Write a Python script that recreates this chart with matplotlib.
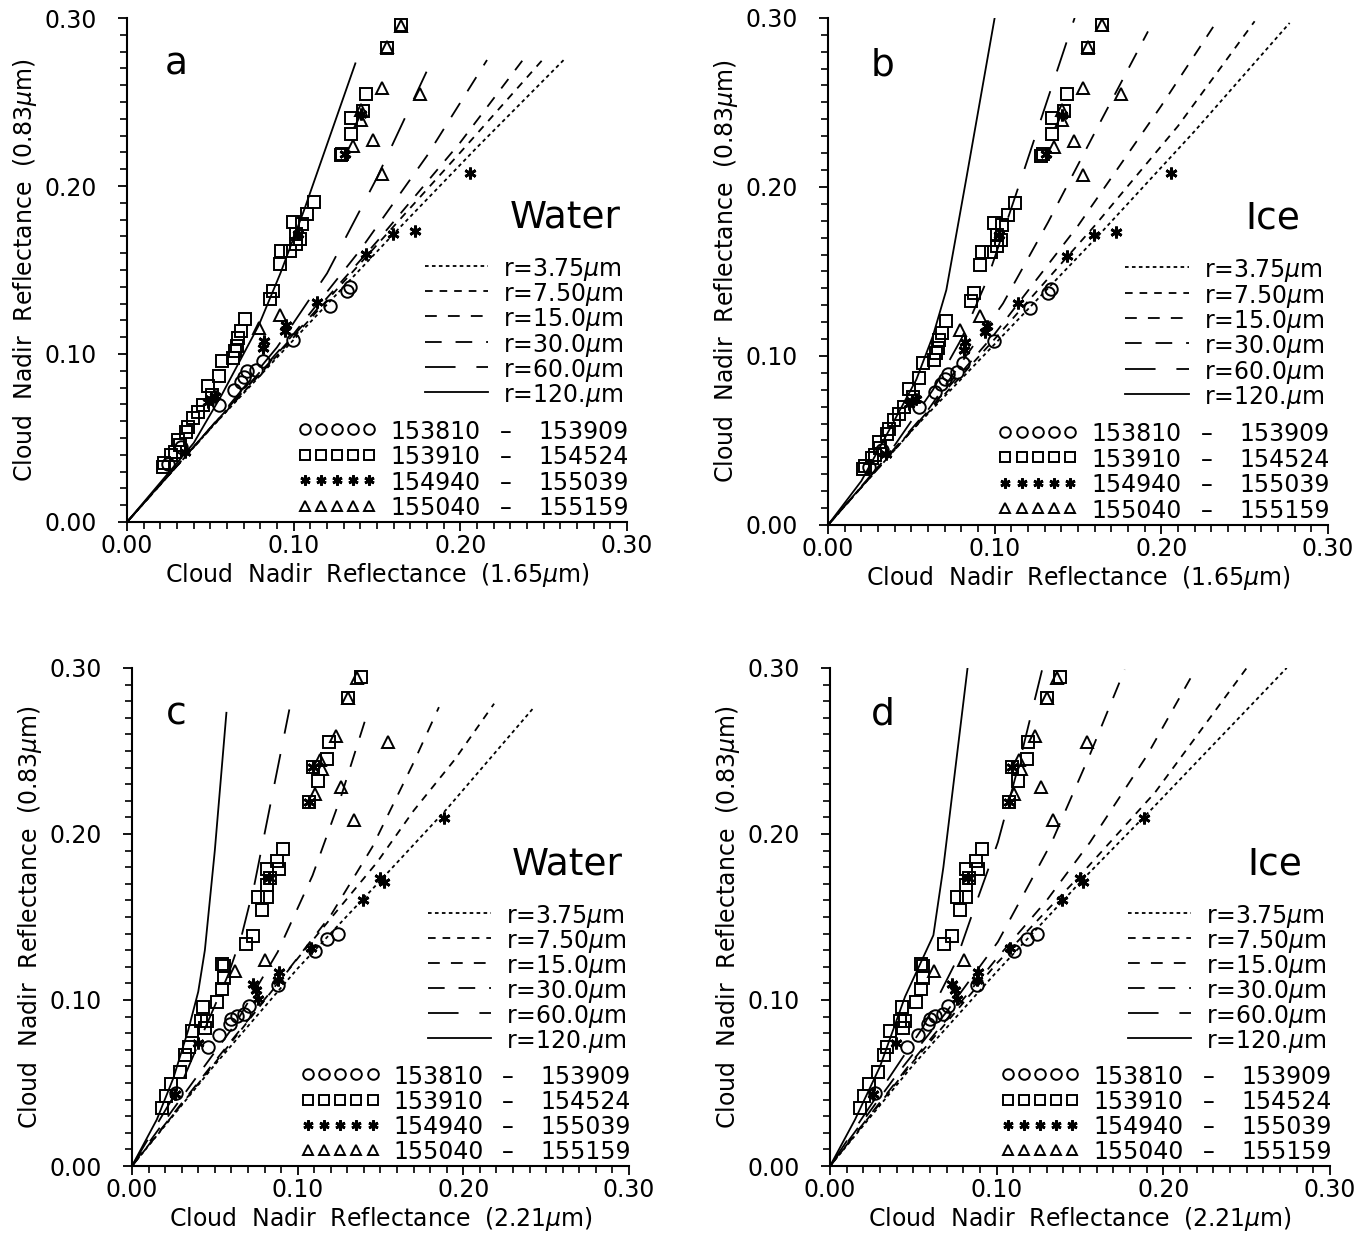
import matplotlib.pyplot as plt
from matplotlib.ticker import MultipleLocator
import numpy as np

plt.rcParams['font.family'] = ['DejaVu Sans']
plt.rcParams['lines.scale_dashes'] = False

############################################
## Data
############################################

radii = ["3.75", "7.50", "15.0", "30.0", "60.0", "120."]
periods = [("153810", "153909"), ("153910", "154524"), ("154940", "155039"), ("155040", "155159")]

# model curves, one list per effective radius (3.75 ... 120 um)
water165_x = [[0, 0.05, 0.10, 0.16, 0.21, 0.262],
              [0, 0.05, 0.10, 0.15, 0.20, 0.251],
              [0, 0.05, 0.10, 0.15, 0.20, 0.239],
              [0, 0.05, 0.10, 0.14, 0.18, 0.216],
              [0, 0.05, 0.09, 0.12, 0.15, 0.183],
              [0, 0.04, 0.057, 0.079, 0.092, 0.106, 0.137]]
water165_y = [[0, 0.0555, 0.1085, 0.1715, 0.223, 0.275],
              [0, 0.0555, 0.110, 0.165, 0.220, 0.277],
              [0, 0.056, 0.111, 0.167, 0.226, 0.277],
              [0, 0.056, 0.112, 0.162, 0.218, 0.275],
              [0, 0.056, 0.104, 0.148, 0.205, 0.275],
              [0, 0.047, 0.076, 0.117, 0.148, 0.185, 0.273]]

ice165_x = [[0, 0.05, 0.10, 0.163, 0.22, 0.277],
            [0, 0.05, 0.10, 0.16, 0.21, 0.256],
            [0, 0.05, 0.10, 0.15, 0.20, 0.234],
            [0, 0.06, 0.105, 0.132, 0.16, 0.192],
            [0, 0.035, 0.063, 0.08, 0.0955, 0.116, 0.148],
            [0, 0.02, 0.035, 0.053, 0.063, 0.071, 0.083, 0.100]]
ice165_y = [[0, 0.0555, 0.107, 0.172, 0.233, 0.297],
            [0, 0.0555, 0.110, 0.177, 0.236, 0.298],
            [0, 0.056, 0.113, 0.177, 0.248, 0.299],
            [0, 0.068, 0.131, 0.179, 0.232, 0.292],
            [0, 0.040, 0.080, 0.110, 0.145, 0.205, 0.300],
            [0, 0.026, 0.053, 0.086, 0.112, 0.139, 0.205, 0.300]]

water221_x = [[0, 0.05, 0.10, 0.15, 0.19, 0.242],
              [0, 0.05, 0.10, 0.148, 0.17, 0.195, 0.2186],
              [0, 0.05, 0.095, 0.12, 0.145, 0.17, 0.1853],
              [0, 0.04, 0.062, 0.088, 0.109, 0.126, 0.1425],
              [0, 0.03, 0.045, 0.058, 0.066, 0.074, 0.082, 0.095],
              [0, 0.015, 0.025, 0.034, 0.040, 0.044, 0.050, 0.057]]
water221_y = [[0, 0.061, 0.119, 0.172, 0.215, 0.2755],
              [0, 0.062, 0.125, 0.183, 0.214, 0.245, 0.2785],
              [0, 0.063, 0.119, 0.151, 0.192, 0.243, 0.2764],
              [0, 0.055, 0.085, 0.129, 0.175, 0.222, 0.274],
              [0, 0.050, 0.085, 0.115, 0.138, 0.170, 0.210, 0.275],
              [0, 0.028, 0.053, 0.082, 0.105, 0.130, 0.190, 0.273]]

ice221_x = [[0, 0.05, 0.10, 0.152, 0.193, 0.274],
            [0, 0.05, 0.10, 0.15, 0.195, 0.250],
            [0, 0.05, 0.10, 0.13, 0.156, 0.19, 0.2175],
            [0, 0.04, 0.07, 0.1007, 0.133, 0.156, 0.1768],
            [0, 0.03, 0.0557, 0.075, 0.0868, 0.1007, 0.1136, 0.1275],
            [0, 0.015, 0.03, 0.045, 0.062, 0.068, 0.0825]]
ice221_y = [[0, 0.061, 0.117, 0.173, 0.215, 0.300],
            [0, 0.063, 0.122, 0.175, 0.225, 0.300],
            [0, 0.064, 0.125, 0.160, 0.195, 0.247, 0.296],
            [0, 0.055, 0.093, 0.135, 0.195, 0.248, 0.299],
            [0, 0.045, 0.0835, 0.122, 0.156, 0.195, 0.243, 0.300],
            [0, 0.028, 0.060, 0.102, 0.139, 0.180, 0.300]]

# observations, x = 1.65 um reflectance
circ165_x = [0.1321, 0.1337, 0.1215, 0.0996, 0.0813, 0.0772, 0.0722, 0.0701, 0.0681, 0.064, 0.0549, 0.0325, 0.0244]
circ165_y = [0.1375, 0.1398, 0.1285, 0.1086, 0.0956, 0.0906, 0.0896, 0.0861, 0.0833, 0.0787, 0.0697, 0.0445, 0.0343]
sq165_x = [0.1646, 0.156, 0.1436, 0.1414, 0.1346, 0.1346, 0.1281, 0.1292,
           0.1124, 0.1081, 0.0996, 0.1047, 0.1016, 0.1037, 0.1016, 0.0976, 0.0925, 0.0915, 0.0874, 0.0858,
           0.0707, 0.0685, 0.0665, 0.0661, 0.0646, 0.0636, 0.0569, 0.0549, 0.0488, 0.0508, 0.0457, 0.0427,
           0.0396, 0.0366, 0.0356, 0.0305, 0.0315, 0.0285, 0.0264, 0.0224, 0.0213]
sq165_y = [0.2959, 0.282, 0.255, 0.2448, 0.2407, 0.2311, 0.2182, 0.2192,
           0.1902, 0.1833, 0.1787, 0.1773, 0.1713, 0.1683, 0.1653, 0.1614, 0.1614, 0.1538, 0.1375, 0.1325,
           0.1209, 0.1135, 0.1096, 0.1046, 0.1016, 0.0976, 0.0956, 0.0867, 0.0807, 0.0757, 0.0697, 0.0657,
           0.0618, 0.0568, 0.0538, 0.0488, 0.0458, 0.0414, 0.0398, 0.0349, 0.0329]
star165_x = [0.2057, 0.1728, 0.1596, 0.1433, 0.1138, 0.0955, 0.0945, 0.0823, 0.0817, 0.0528, 0.0504,
             0.0488, 0.0346, 0.1403, 0.1307, 0.1027]
star165_y = [0.208, 0.1733, 0.1713, 0.1594, 0.1311, 0.1175, 0.1139, 0.108, 0.1036, 0.0747, 0.0733,
             0.0713, 0.0418, 0.2427, 0.2192, 0.1713]
tri165_x = [0.1646, 0.156, 0.1532, 0.1757, 0.1474, 0.1403, 0.1403, 0.1354, 0.1532, 0.0915, 0.0793]
tri165_y = [0.2955, 0.2826, 0.2585, 0.255, 0.2274, 0.2454, 0.2393, 0.2237, 0.207, 0.1235, 0.1155]

# observations, x = 2.21 um reflectance
circ221_x = [0.1243, 0.1179, 0.1103, 0.0879, 0.0707, 0.0675, 0.0632, 0.06, 0.0589, 0.0525, 0.0461, 0.0268]
circ221_y = [0.1397, 0.1366, 0.1294, 0.1089, 0.0966, 0.0914, 0.0904, 0.0883, 0.0853, 0.0791, 0.0719, 0.0442]
sq221_x = [0.1382, 0.1303, 0.1189, 0.1179, 0.1093, 0.1125, 0.1071, 0.0911, 0.0878, 0.0889, 0.0814, 0.0836,
           0.0814, 0.0761, 0.0814, 0.0782, 0.0729, 0.0686, 0.0546, 0.0557, 0.0557, 0.0546, 0.0514, 0.0429,
           0.0418, 0.045, 0.0439, 0.036, 0.0343, 0.0321, 0.0289, 0.0236, 0.0204, 0.0182]
sq221_y = [0.2948, 0.2819, 0.2552, 0.2449, 0.2404, 0.2318, 0.2194, 0.1911, 0.1839, 0.1788, 0.1788, 0.1736,
           0.1695, 0.1623, 0.1623, 0.1541, 0.1387, 0.1336, 0.1216, 0.1202, 0.113, 0.1068, 0.0986, 0.0955,
           0.0873, 0.0873, 0.0832, 0.0812, 0.0719, 0.0668, 0.0565, 0.0493, 0.0421, 0.0349]
star221_x = [0.1886, 0.152, 0.15, 0.1393, 0.1082, 0.0889, 0.0879, 0.0729, 0.075, 0.0761, 0.0396, 0.0257,
             0.1093, 0.1071, 0.0825]
star221_y = [0.2096, 0.171, 0.1736, 0.1603, 0.1315, 0.1171, 0.112, 0.1099, 0.1058, 0.1007, 0.074, 0.0431,
             0.2404, 0.2194, 0.1736]
tri221_x = [0.1361, 0.1303, 0.1232, 0.1543, 0.1136, 0.1146, 0.1264, 0.1103, 0.1339, 0.0804, 0.0621]
tri221_y = [0.2938, 0.2819, 0.2589, 0.2552, 0.2445, 0.2394, 0.2281, 0.224, 0.2085, 0.1243, 0.1175]

############################################
## Styles
############################################

dash_styles = [(0, (2.6, 2.4)), (0, (5.5, 5.0)), (0, (8.5, 8.0)), (0, (12, 10)), (0, (22, 15)), '-']
# marker, size, edge width
markers = [('o', 9.0, 1.4), ('s', 8.5, 1.4), ((6, 2, 0), 8.5, 2.0), ('^', 8.5, 1.4)]
obs165 = [(circ165_x, circ165_y), (sq165_x, sq165_y), (star165_x, star165_y), (tri165_x, tri165_y)]
obs221 = [(circ221_x, circ221_y), (sq221_x, sq221_y), (star221_x, star221_y), (tri221_x, tri221_y)]


def draw_panel(ax, cx, cy, obs, letter, phase, band, phase_x):
    for xs, ys, ls in zip(cx, cy, dash_styles):
        ax.plot(xs, ys, color='black', lw=1.3, linestyle=ls)
    for (xs, ys), (m, ms, mew) in zip(obs, markers):
        ax.plot(xs, ys, linestyle='none', marker=m, ms=ms, mfc='none', mec='black', mew=mew)

    ax.set_xlim(0, 0.3)
    ax.set_ylim(0, 0.3)
    ax.set_xticks([0, 0.1, 0.2, 0.3])
    ax.set_yticks([0, 0.1, 0.2, 0.3])
    ax.set_xticklabels(["0.00", "0.10", "0.20", "0.30"])
    ax.set_yticklabels(["0.00", "0.10", "0.20", "0.30"])
    ax.xaxis.set_minor_locator(MultipleLocator(0.01))
    ax.yaxis.set_minor_locator(MultipleLocator(0.01))
    ax.tick_params(which='major', direction='out', length=6.5, width=1.3, labelsize=17)
    ax.tick_params(which='minor', direction='out', length=5, width=1.2)
    ax.tick_params(axis='y', pad=15)
    ax.tick_params(axis='x', pad=2)
    for s in ['top', 'right']:
        ax.spines[s].set_visible(False)
    for s in ['left', 'bottom']:
        ax.spines[s].set_linewidth(1.5)

    ax.set_xlabel("Cloud  Nadir  Reflectance  (" + band + "$\\mu$m)", fontsize=17, labelpad=2)
    ax.set_ylabel("Cloud  Nadir  Reflectance  (0.83$\\mu$m)", fontsize=17, labelpad=4)

    ax.text(letter[1], 0.887, letter[0], transform=ax.transAxes, fontsize=27, ha='left', va='baseline')
    ax.text(phase_x, 0.605, phase, transform=ax.transAxes, fontsize=27, ha='center', va='center')

    # legend drawn as a small table
    for i, (r, ls) in enumerate(zip(radii, dash_styles)):
        yy = 0.508 - 0.050 * i
        ax.plot([0.595, 0.722], [yy, yy], transform=ax.transAxes, color='black', lw=1.3, linestyle=ls)
        ax.text(0.752, yy, "r=" + r + "$\\mu$m", transform=ax.transAxes, fontsize=17,
                ha='left', va='center_baseline')
    for i, ((t0, t1), (m, ms, mew)) in enumerate(zip(periods, markers)):
        yy = 0.184 - 0.0505 * i
        ax.plot(np.linspace(0.355, 0.484, 5), [yy] * 5, transform=ax.transAxes, linestyle='none',
                marker=m, ms=ms * 0.85, mfc='none', mec='black', mew=mew)
        ax.text(0.527, yy, t0, transform=ax.transAxes, fontsize=17, ha='left', va='center_baseline')
        ax.text(0.757, yy, "\u2013", transform=ax.transAxes, fontsize=17, ha='center', va='center_baseline')
        ax.text(1.004, yy, t1, transform=ax.transAxes, fontsize=17, ha='right', va='center_baseline')


fig = plt.figure(figsize=(13.72, 12.34), dpi=100)
ax_a = fig.add_axes([0.0926, 0.5770, 0.3644, 0.4084])
ax_b = fig.add_axes([0.6035, 0.5746, 0.3644, 0.4109])
ax_c = fig.add_axes([0.0962, 0.0551, 0.3622, 0.4036])
ax_d = fig.add_axes([0.6050, 0.0551, 0.3644, 0.4036])

draw_panel(ax_a, water165_x, water165_y, obs165, ("a", 0.075), "Water", "1.65", 0.876)
draw_panel(ax_b, ice165_x, ice165_y, obs165, ("b", 0.086), "Ice", "1.65", 0.89)
draw_panel(ax_c, water221_x, water221_y, obs221, ("c", 0.068), "Water", "2.21", 0.876)
draw_panel(ax_d, ice221_x, ice221_y, obs221, ("d", 0.082), "Ice", "2.21", 0.89)

fig.savefig("out.png", dpi=100)
